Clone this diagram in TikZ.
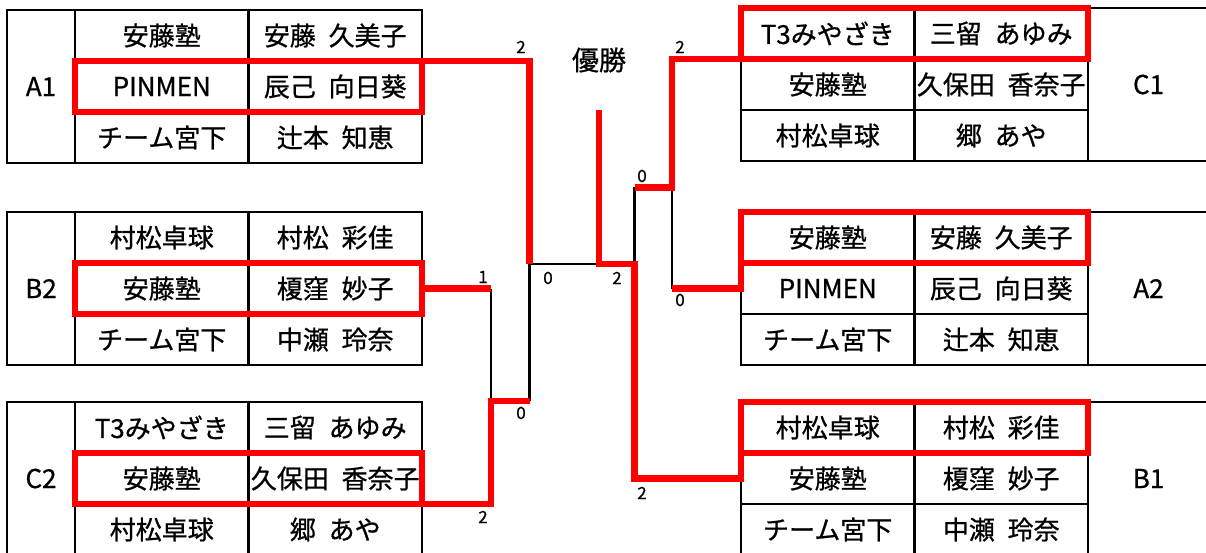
\documentclass[tikz,border=0pt]{standalone}
\usepackage{fontspec}
\setmainfont[WordSpace=2.2, UprightFeatures={FakeBold=0.8}]{Noto Sans CJK JP}
\usetikzlibrary{positioning}

\tikzset{
  cell/.style={draw, line width=2.7pt, rectangle, inner sep=0pt, outer sep=0pt,
    minimum width=173.5pt, minimum height=51pt, font=\fontsize{26}{30}\selectfont},
  group/.style={cell, minimum width=68pt, minimum height=153pt},
  score/.style={inner sep=0pt, font=\fontsize{17}{19}\selectfont},
  blackline/.style={draw=black, line width=2.7pt},
  redline/.style={draw=red, line width=6.5pt}
}

\begin{document}
\begin{tikzpicture}[x=1pt, y=-1pt]
  \useasboundingbox (0,0) rectangle (1206,553);
  % left tables
  \begin{scope}[every node/.style={cell}]
    \node (A1t2) at (161.75,86.5) {PINMEN};
    \node (A1p2) [right=0pt of A1t2] {辰己 向日葵};
    \node (A1t1) [above=0pt of A1t2] {安藤塾};
    \node (A1p1) [above=0pt of A1p2] {安藤 久美子};
    \node (A1t3) [below=0pt of A1t2] {チーム宮下};
    \node (A1p3) [below=0pt of A1p2] {辻本 知恵};
    \node (A1) [group, left=0pt of A1t2] {A1};

    \node (B2t2) at (161.75,288.5) {安藤塾};
    \node (B2p2) [right=0pt of B2t2] {榎窪 妙子};
    \node (B2t1) [above=0pt of B2t2] {村松卓球};
    \node (B2p1) [above=0pt of B2p2] {村松 彩佳};
    \node (B2t3) [below=0pt of B2t2] {チーム宮下};
    \node (B2p3) [below=0pt of B2p2] {中瀬 玲奈};
    \node (B2) [group, left=0pt of B2t2] {B2};

    \node (C2t2) at (161.75,478.5) {安藤塾};
    \node (C2p2) [right=0pt of C2t2] {久保田 香奈子};
    \node (C2t1) [above=0pt of C2t2] {T3みやざき};
    \node (C2p1) [above=0pt of C2p2] {三留 あゆみ};
    \node (C2t3) [below=0pt of C2t2] {村松卓球};
    \node (C2p3) [below=0pt of C2p2] {郷 あや};
    \node (C2) [group, left=0pt of C2t2] {C2};
  \end{scope}
  % right tables
  \begin{scope}[every node/.style={cell}]
    \node (C1t2) at (827.75,84.5) {安藤塾};
    \node (C1p2) [right=0pt of C1t2] {久保田 香奈子};
    \node (C1t1) [above=0pt of C1t2] {T3みやざき};
    \node (C1p1) [above=0pt of C1p2] {三留 あゆみ};
    \node (C1t3) [below=0pt of C1t2] {村松卓球};
    \node (C1p3) [below=0pt of C1p2] {郷 あや};
    \node (C1) [group, minimum width=121pt, right=0pt of C1p2] {C1};

    \node (A2t2) at (827.75,288.5) {PINMEN};
    \node (A2p2) [right=0pt of A2t2] {辰己 向日葵};
    \node (A2t1) [above=0pt of A2t2] {安藤塾};
    \node (A2p1) [above=0pt of A2p2] {安藤 久美子};
    \node (A2t3) [below=0pt of A2t2] {チーム宮下};
    \node (A2p3) [below=0pt of A2p2] {辻本 知恵};
    \node (A2) [group, minimum width=121pt, right=0pt of A2p2] {A2};

    \node (B1t2) at (827.75,478.5) {安藤塾};
    \node (B1p2) [right=0pt of B1t2] {榎窪 妙子};
    \node (B1t1) [above=0pt of B1t2] {村松卓球};
    \node (B1p1) [above=0pt of B1p2] {村松 彩佳};
    \node (B1t3) [below=0pt of B1t2] {チーム宮下};
    \node (B1p3) [below=0pt of B1p2] {中瀬 玲奈};
    \node (B1) [group, minimum width=121pt, right=0pt of B1p2] {B1};
  \end{scope}

  % bracket
  \coordinate (qL) at (491,401);
  \coordinate (sL) at (529.5,264);
  \coordinate (fin) at (599,264);
  \coordinate (top) at (599,110);
  \coordinate (sR) at (634.5,264);
  \coordinate (qR) at (672,187.5);
  \node (title) at (599,60) [font=\fontsize{27}{30}\selectfont] {優勝};

  \draw[blackline] (B2p2.east -| qL) -- (qL);
  \draw[blackline] (sL |- qL) -- (sL) -- (fin);
  \draw[blackline] (sR |- qR) -- (sR);
  \draw[blackline] (A2t2.west -| qR) -- (qR);

  \begin{scope}[every path/.style={redline}]
    \draw (A1t2.north west) rectangle (A1p2.south east);
    \draw (B2t2.north west) rectangle (B2p2.south east);
    \draw (C2t2.north west) rectangle (C2p2.south east);
    \draw (C1t1.north west) rectangle (C1p1.south east);
    \draw (A2t1.north west) rectangle (A2p1.south east);
    \draw (B1t1.north west) rectangle (B1p1.south east);
    \draw (A1p2.north east) -| (sL);
    \draw (B2p2.east) -- (B2p2.east -| qL);
    \draw (C2p2.south east) -| (qL) -- (sL |- qL);
    \draw (top) -- (fin) -- (sR) |- (B1t2.west) -- (B1t1.north west);
    \draw (C1t1.south west) -| (qR) -- (sR |- qR);
    \draw (A2t1.north west) -- (A2t2.west) -- (qR |- A2t2.west);
  \end{scope}

  % scores
  \begin{scope}[every node/.style={score}]
    \node (sA1) at (521,47) {2};
    \node (sB2) at (483,277) {1};
    \node (sC2) at (483,517) {2};
    \node (sqL) at (521,413) {0};
    \node (sfL) at (548,278) {0};
    \node (sfR) at (617,278) {2};
    \node (sC1) at (680,47) {2};
    \node (sA2) at (680,300) {0};
    \node (sqR) at (642,176) {0};
    \node (sB1) at (642,493) {2};
  \end{scope}
\end{tikzpicture}
\end{document}
